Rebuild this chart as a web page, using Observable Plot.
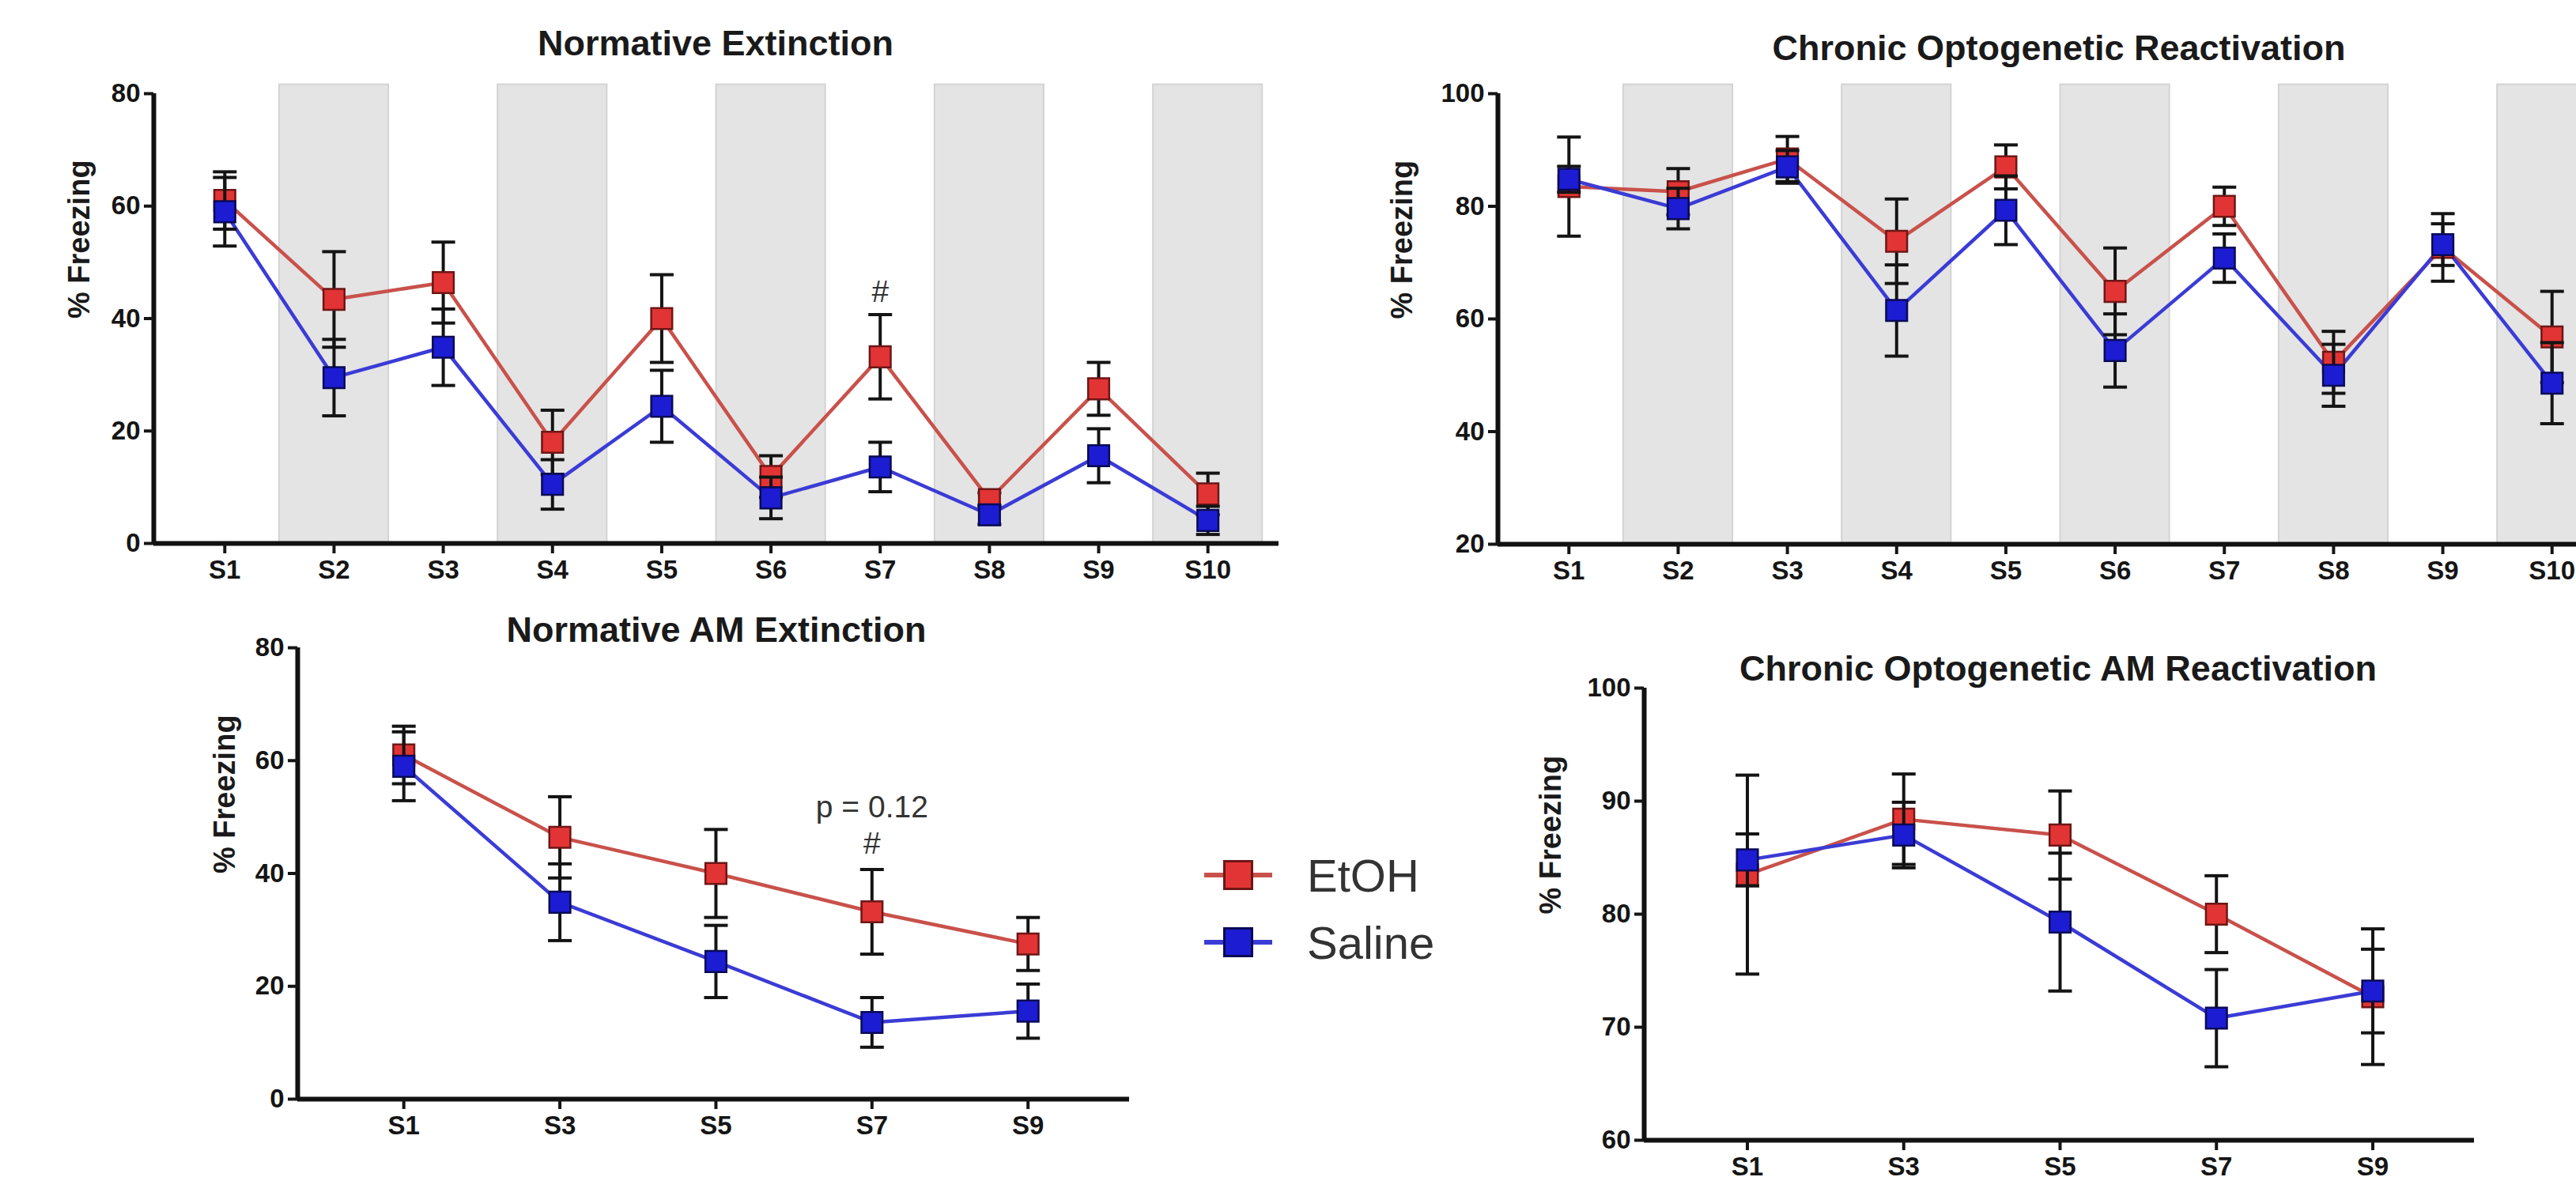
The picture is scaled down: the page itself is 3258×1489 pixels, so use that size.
<!DOCTYPE html>
<html>
<head>
<meta charset="utf-8">
<script src="https://cdn.jsdelivr.net/npm/d3@7"></script>
<script src="https://cdn.jsdelivr.net/npm/@observablehq/plot@0.6"></script>
<style>
  html, body { margin: 0; padding: 0; background: #fff; }
  body { width: 3258px; height: 1489px; overflow: hidden; position: relative;
         font-family: "Liberation Sans", Arial, Helvetica, sans-serif; }
  .panel { position: absolute; }
  .panel svg { overflow: visible; display: block; max-width: none !important; }
  .title { position: absolute; transform: translate(-50%, -50%); font-weight: bold;
           font-size: 45px; color: #1a1a1a; white-space: nowrap; z-index: 2; }
  .legline { position: absolute; height: 6px; }
  .legsq { position: absolute; box-sizing: border-box; border: 3px solid; }
  .legtxt { position: absolute; font-size: 58px; color: #333; transform: translateY(-50%); white-space: nowrap; }
</style>
</head>
<body>
<script>
// ---------------- data ----------------
const sessions = ["S1", "S2", "S3", "S4", "S5", "S6", "S7", "S8", "S9", "S10"];
const groups = ["EtOH", "Saline"];

// Normative Extinction (% freezing, mean and SEM)
const extEtOH      = [61.0, 43.4, 46.4, 18.0, 40.0, 11.9, 33.2, 7.8, 27.5, 8.8];
const extEtOHErr   = [5.1, 8.5, 7.2, 5.7, 7.8, 3.7, 7.5, 1.2, 4.7, 3.7];
const extSaline    = [59.0, 29.5, 34.9, 10.5, 24.4, 8.1, 13.6, 5.1, 15.6, 4.1];
const extSalineErr = [6.1, 6.8, 6.8, 4.4, 6.4, 3.7, 4.4, 1.7, 4.8, 2.5];

// Chronic Optogenetic Reactivation
const optoEtOH      = [83.5, 82.6, 88.4, 73.8, 87.0, 64.9, 80.0, 52.3, 72.7, 56.8];
const optoEtOHErr   = [8.8, 4.1, 4.0, 7.5, 3.9, 7.7, 3.4, 5.5, 6.0, 8.1];
const optoSaline    = [84.8, 79.6, 87.0, 61.5, 79.3, 54.4, 70.8, 50.0, 73.2, 48.6];
const optoSalineErr = [2.3, 3.6, 2.9, 8.1, 6.1, 6.5, 4.3, 5.5, 3.7, 7.2];

// AM sessions (odd sessions)
const amSessions = ["S1", "S3", "S5", "S7", "S9"];

// tick values
const extTicks = [0, 20, 40, 60, 80];
const optoTicks = [20, 40, 60, 80, 100];
const optoAmTicks = [60, 70, 80, 90, 100];

// annotations
const extNotes = [{session: "S7", value: 44.7, label: "#"}];
const extAmNotes = [{session: "S7", value: 45.2, label: "#"}, {session: "S7", value: 51.7, label: "p = 0.12"}];

const titles = ["Normative Extinction", "Chronic Optogenetic Reactivation",
                "Normative AM Extinction", "Chronic Optogenetic AM Reactivation"];
const yLabel = "% Freezing";

// colours
const colors = {
  EtOH:   {line: "#c9514b", fill: "#e23434", edge: "#6e1616"},
  Saline: {line: "#3b3bd6", fill: "#1c1cd2", edge: "#0a0a55"}
};

// ---------------- helpers ----------------
const pick = (arr, cats) => cats.map(c => arr[sessions.indexOf(c)]);

const capSymbol = {
  draw(context, size) {
    const w = Math.sqrt(size / Math.PI);
    context.moveTo(-w, 0);
    context.lineTo(w, 0);
  }
};

function makePanel(cfg) {
  const {cats, series, yDomain, yTicks, xDomain, bands, notes, labelDx,
         width, height, mL, mR, mT, mB} = cfg;
  const idx = cats.map((c, i) => i + 1);
  const rows = {};
  for (const g of groups) {
    rows[g] = cats.map((c, i) => ({i: i + 1, cat: c, group: g, v: series[g].v[i], e: series[g].e[i]}));
  }
  const bandIdx = bands ? idx.filter(i => i % 2 === 0) : [];
  const span = yDomain[1] - yDomain[0];
  const bandTop = yDomain[1] + span * 0.02;
  const noteRows = (notes || []).map(n => ({i: cats.indexOf(n.session) + 1, v: n.value, label: n.label}));

  const marks = [
    Plot.rect(bandIdx, {x1: d => d - 0.5, x2: d => d + 0.5, y1: yDomain[0], y2: bandTop,
                        fill: "#e4e4e4", stroke: "#d3d3d3", strokeWidth: 2}),
  ];
  for (const g of groups) {
    marks.push(Plot.line(rows[g], {x: "i", y: "v", stroke: colors[g].line, strokeWidth: 4.5}));
  }
  for (const g of groups) {
    marks.push(
      Plot.ruleX(rows[g], {x: "i", y1: d => d.v - d.e, y2: d => d.v + d.e, stroke: "#141414", strokeWidth: 4}),
      Plot.dot(rows[g], {x: "i", y: d => d.v + d.e, symbol: capSymbol, r: 15, stroke: "#141414", strokeWidth: 4, fill: "none"}),
      Plot.dot(rows[g], {x: "i", y: d => d.v - d.e, symbol: capSymbol, r: 15, stroke: "#141414", strokeWidth: 4, fill: "none"}),
      Plot.dot(rows[g], {x: "i", y: "v", symbol: "square", r: 15, fill: colors[g].fill, stroke: colors[g].edge, strokeWidth: 2.5})
    );
  }
  marks.push(
    Plot.ruleX([xDomain[0]], {stroke: "#111", strokeWidth: 6}),
    Plot.ruleY([yDomain[0]], {stroke: "#111", strokeWidth: 6}),
    Plot.axisY({ticks: yTicks, tickFormat: d => String(d), tickSize: 12, tickPadding: 5,
                fontSize: 33, fontWeight: "bold", strokeWidth: 4, label: null}),
    Plot.axisX({ticks: idx, tickFormat: i => cats[i - 1], tickSize: 13, tickPadding: 8,
                fontSize: 33, fontWeight: "bold", strokeWidth: 4, label: null}),
    Plot.text(noteRows, {x: "i", y: "v", text: "label", fontSize: 39, fontWeight: "normal", fill: "#333"}),
    Plot.text([yLabel], {text: d => d, frameAnchor: "left", rotate: -90, dx: labelDx,
                         fontSize: 38, fontWeight: "bold", fill: "#1a1a1a"})
  );

  return Plot.plot({
    width, height,
    marginLeft: mL, marginRight: mR, marginTop: mT, marginBottom: mB,
    x: {type: "linear", domain: xDomain},
    y: {type: "linear", domain: yDomain},
    style: {fontFamily: '"Liberation Sans", Arial, Helvetica, sans-serif', color: "#151515",
            fontWeight: "bold", background: "transparent", maxWidth: "none"},
    marks
  });
}

function place(node, left, top, w, h) {
  const div = document.createElement("div");
  div.className = "panel";
  div.style.left = left + "px";
  div.style.top = top + "px";
  div.style.width = w + "px";
  div.style.height = h + "px";
  node.setAttribute("width", w);
  node.setAttribute("height", h);
  node.style.width = w + "px";
  node.style.height = h + "px";
  node.style.maxWidth = "none";
  div.appendChild(node);
  document.body.appendChild(div);
}

function addTitle(text, cx, cy) {
  const d = document.createElement("div");
  d.className = "title";
  d.textContent = text;
  d.style.left = cx + "px";
  d.style.top = cy + "px";
  document.body.appendChild(d);
}

// ---------------- panels ----------------
place(makePanel({
  cats: sessions,
  series: {EtOH: {v: extEtOH, e: extEtOHErr}, Saline: {v: extSaline, e: extSalineErr}},
  yDomain: [0, 80], yTicks: extTicks, xDomain: [0.35, 10.65], bands: true, notes: extNotes,
  labelDx: -94, width: 1650, height: 760, mL: 194, mR: 33, mT: 118, mB: 73
}), 0, 0, 1650, 760);

place(makePanel({
  cats: sessions,
  series: {EtOH: {v: optoEtOH, e: optoEtOHErr}, Saline: {v: optoSaline, e: optoSalineErr}},
  yDomain: [20, 100], yTicks: optoTicks, xDomain: [0.35, 10.65], bands: true, notes: [],
  labelDx: -121, width: 1700, height: 760, mL: 194, mR: 83, mT: 118, mB: 72
}), 1700, 0, 1700, 760);

place(makePanel({
  cats: amSessions,
  series: {EtOH: {v: pick(extEtOH, amSessions), e: pick(extEtOHErr, amSessions)},
           Saline: {v: pick(extSaline, amSessions), e: pick(extSalineErr, amSessions)}},
  yDomain: [0, 80], yTicks: extTicks, xDomain: [0.32, 5.65], bands: false, notes: extAmNotes,
  labelDx: -92, width: 1250, height: 729, mL: 126, mR: 72, mT: 59, mB: 99
}), 250, 760, 1250, 729);

place(makePanel({
  cats: amSessions,
  series: {EtOH: {v: pick(optoEtOH, amSessions), e: pick(optoEtOHErr, amSessions)},
           Saline: {v: pick(optoSaline, amSessions), e: pick(optoSalineErr, amSessions)}},
  yDomain: [60, 100], yTicks: optoAmTicks, xDomain: [0.34, 5.65], bands: false, notes: [],
  labelDx: -118, width: 1358, height: 729, mL: 179, mR: 129, mT: 110, mB: 47
}), 1900, 760, 1358, 729);

addTitle(titles[0], 905, 55);
addTitle(titles[1], 2604, 61);
addTitle(titles[2], 906, 797);
addTitle(titles[3], 2603, 846);

// ---------------- legend ----------------
const legendRows = [{g: "EtOH", y: 1107}, {g: "Saline", y: 1192}];
for (const r of legendRows) {
  const line = document.createElement("div");
  line.className = "legline";
  line.style.left = "1523px"; line.style.width = "86px";
  line.style.top = (r.y - 3) + "px";
  line.style.background = colors[r.g].line;
  document.body.appendChild(line);
  const sq = document.createElement("div");
  sq.className = "legsq";
  sq.style.left = (1566 - 19) + "px"; sq.style.top = (r.y - 19) + "px";
  sq.style.width = "38px"; sq.style.height = "38px";
  sq.style.background = colors[r.g].fill; sq.style.borderColor = colors[r.g].edge;
  document.body.appendChild(sq);
  const t = document.createElement("div");
  t.className = "legtxt";
  t.style.left = "1653px"; t.style.top = r.y + "px";
  t.textContent = r.g;
  document.body.appendChild(t);
}
</script>
</body>
</html>
